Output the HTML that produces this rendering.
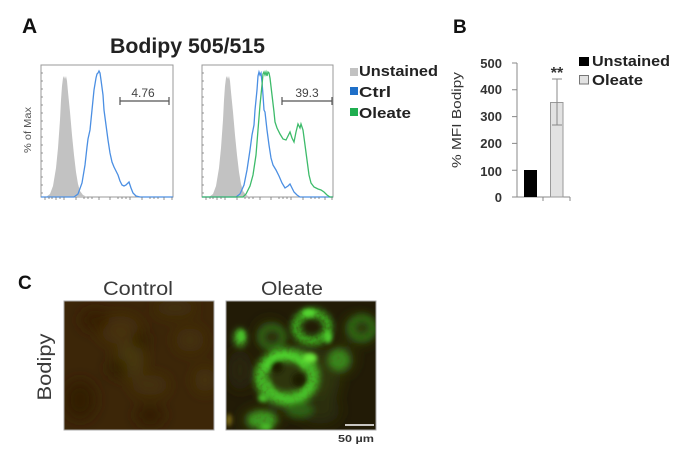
<!DOCTYPE html>
<html><head><meta charset="utf-8">
<style>
html,body{margin:0;padding:0;background:#fff;}
svg{display:block;}
text{font-family:"Liberation Sans",Arial,sans-serif;}
</style></head>
<body>
<svg width="700" height="466" viewBox="0 0 700 466" xmlns="http://www.w3.org/2000/svg">
<defs>
  <filter id="b2" x="-50%" y="-50%" width="200%" height="200%"><feGaussianBlur stdDeviation="2"/></filter>
  <filter id="b4" x="-50%" y="-50%" width="200%" height="200%"><feGaussianBlur stdDeviation="4"/></filter>
  <filter id="b7" x="-50%" y="-50%" width="200%" height="200%"><feGaussianBlur stdDeviation="7"/></filter>
  <filter id="speck" filterUnits="userSpaceOnUse" x="226" y="301" width="150" height="129">
    <feGaussianBlur in="SourceGraphic" stdDeviation="3.5" result="bl"/>
    <feTurbulence type="fractalNoise" baseFrequency="0.3" numOctaves="2" seed="5" result="n"/>
    <feColorMatrix in="n" type="matrix" values="0 0 0 0 0  0 0 0 0 0  0 0 0 0 0  2.2 0 0 0 -0.45" result="na"/>
    <feComposite in="bl" in2="na" operator="arithmetic" k1="0.6" k2="0.6" k3="0" k4="0"/>
  </filter>
  <clipPath id="c1"><rect x="64" y="301" width="150" height="129"/></clipPath>
  <clipPath id="c2"><rect x="226" y="301" width="150" height="129"/></clipPath>
</defs>

<!-- Panel A -->
<text x="22" y="33" font-size="21" font-weight="bold" fill="#111">A</text>
<text x="110" y="53" font-size="21" font-weight="bold" fill="#222" textLength="155" lengthAdjust="spacingAndGlyphs">Bodipy 505/515</text>
<text transform="translate(31,130) rotate(-90)" text-anchor="middle" font-size="10" fill="#555" textLength="46" lengthAdjust="spacingAndGlyphs">% of Max</text>

<!-- hist 1 -->
<rect x="41" y="65" width="132" height="132" fill="none" stroke="#999" stroke-width="1"/>
<path d="M46,197 L50,194 L53,186 L56,168 L58,148 L60,120 L61,100 L62,86 L63,78 L64,76 L65,79 L66,76 L67,81 L68,92 L70,112 L72,135 L74,155 L76,172 L78,184 L80,191 L83,195 L87,197 Z" fill="#c2c2c2"/>
<path d="M41,197 L74,197 L78,194 L82,183 L85,165 L87,147 L88,139 L90,130 L92,110 L94,90 L96,78 L97,74 L98,73 L99,71 L100,73 L101,80 L103,95 L104,110 L106,125 L108,140 L110,153 L112,162 L114,167 L116,171 L118,175 L120,181 L122,185 L124,186 L126,185 L128,183 L129,182 L131,188 L133,193 L136,196 L140,197 L173,197" fill="none" stroke="#4b8fe3" stroke-width="1.3"/>
<path d="M120,97 V105 M120,101 H169 M169,97 V105" stroke="#555" stroke-width="1.2" fill="none"/>
<text x="143" y="97" font-size="12" fill="#444" text-anchor="middle">4.76</text>

<!-- hist 2 -->
<rect x="202" y="65" width="131" height="132" fill="none" stroke="#999" stroke-width="1"/>
<path d="M209,197 L213,194 L216,186 L219,168 L221,148 L223,120 L224,100 L225,86 L226,78 L227,76 L228,79 L229,76 L230,81 L231,92 L233,112 L235,135 L237,155 L239,172 L241,184 L243,191 L246,195 L250,197 Z" fill="#c2c2c2"/>
<path d="M202,197 L236,197 L240,194 L244,185 L247,170 L250,150 L252,135 L254,125 L255,110 L257,90 L258,76 L259,72 L260,75 L261,73 L262,82 L263,95 L264,110 L265,112 L267,130 L269,145 L271,158 L273,165 L276,170 L279,176 L282,183 L285,188 L288,186 L290,184 L292,188 L294,192 L297,195 L300,197 L333,197" fill="none" stroke="#4b8fe3" stroke-width="1.3"/>
<path d="M202,197 L243,197 L246,194 L250,186 L253,175 L256,155 L258,130 L260,105 L262,85 L263,74 L264,72 L265,75 L266,72 L267,76 L268,72 L269,73 L270,78 L272,95 L274,112 L275,122 L277,128 L280,134 L283,139 L286,140 L288,136 L290,132 L292,138 L294,142 L296,132 L298,124 L300,128 L301,124 L303,130 L305,145 L307,160 L309,175 L311,183 L314,187 L318,189 L321,190 L324,192 L327,195 L330,197 L333,197" fill="none" stroke="#3dbb6a" stroke-width="1.3"/>
<path d="M282,97 V105 M282,101 H332 M332,97 V105" stroke="#555" stroke-width="1.2" fill="none"/>
<text x="307" y="97" font-size="12" fill="#444" text-anchor="middle">39.3</text>

<!-- axis ticks -->
<g stroke="#777" stroke-width="0.8">
  <path d="M41,73 h2 M41,81 h2 M41,89 h2 M41,97 h2 M41,105 h2 M41,113 h2 M41,121 h2 M41,129 h2 M41,137 h2 M41,145 h2 M41,153 h2 M41,161 h2 M41,169 h2 M41,177 h2 M41,185 h2 M41,193 h2"/>
  <path d="M202,73 h2 M202,81 h2 M202,89 h2 M202,97 h2 M202,105 h2 M202,113 h2 M202,121 h2 M202,129 h2 M202,137 h2 M202,145 h2 M202,153 h2 M202,161 h2 M202,169 h2 M202,177 h2 M202,185 h2 M202,193 h2"/>
  <path d="M45,197 v3 M49,197 v2 M52,197 v2 M56,197 v3 M60,197 v2 M64,197 v3 M76,197 v3 M84,197 v2 M88,197 v2 M92,197 v2 M99,197 v3 M110,197 v3 M118,197 v2 M122,197 v2 M126,197 v2 M130,197 v3 M142,197 v3 M150,197 v2 M154,197 v2 M158,197 v2 M164,197 v3 M172,197 v3"/>
  <path d="M206,197 v3 M210,197 v2 M213,197 v2 M217,197 v3 M221,197 v2 M225,197 v3 M237,197 v3 M245,197 v2 M249,197 v2 M253,197 v2 M260,197 v3 M271,197 v3 M279,197 v2 M283,197 v2 M287,197 v2 M291,197 v3 M303,197 v3 M311,197 v2 M315,197 v2 M319,197 v2 M325,197 v3 M332,197 v3"/>
</g>

<!-- legend A -->
<rect x="350" y="68" width="8" height="8" fill="#c2c2c2"/>
<text x="359" y="76" font-size="15" font-weight="bold" fill="#222" textLength="79" lengthAdjust="spacingAndGlyphs">Unstained</text>
<rect x="350" y="87" width="8" height="8" fill="#1f6fc8"/>
<text x="359" y="97" font-size="15" font-weight="bold" fill="#222" textLength="32" lengthAdjust="spacingAndGlyphs">Ctrl</text>
<rect x="350" y="108" width="8" height="8" fill="#1fae50"/>
<text x="359" y="118" font-size="15" font-weight="bold" fill="#222" textLength="52" lengthAdjust="spacingAndGlyphs">Oleate</text>

<!-- Panel B -->
<text x="453" y="33" font-size="19" font-weight="bold" fill="#111">B</text>
<text transform="translate(461,120) rotate(-90)" text-anchor="middle" font-size="13" fill="#333" textLength="96" lengthAdjust="spacingAndGlyphs">% MFI Bodipy</text>
<g font-size="13" font-weight="bold" fill="#333" text-anchor="end">
  <text x="502" y="68">500</text>
  <text x="502" y="94">400</text>
  <text x="502" y="121">300</text>
  <text x="502" y="148">200</text>
  <text x="502" y="176">100</text>
  <text x="502" y="202">0</text>
</g>
<g stroke="#888" stroke-width="1" fill="none">
  <path d="M517,63 V197 H570"/>
  <path d="M512,63 h5 M512,89.8 h5 M512,116.6 h5 M512,143.4 h5 M512,170.2 h5 M512,197 h5"/>
  <path d="M543,197 v4 M570,197 v4"/>
</g>
<rect x="524" y="170" width="13" height="27" fill="#000"/>
<rect x="550.5" y="102.5" width="12.5" height="94.5" fill="#e2e2e2" stroke="#999" stroke-width="1"/>
<path d="M557,79 V125 M552,79 h10 M552,125 h10" stroke="#888" stroke-width="1" fill="none"/>
<text x="557" y="78" font-size="16" font-weight="bold" fill="#333" text-anchor="middle">**</text>
<rect x="579" y="57" width="10" height="9" fill="#000"/>
<text x="592" y="66" font-size="15" font-weight="bold" fill="#222" textLength="78" lengthAdjust="spacingAndGlyphs">Unstained</text>
<rect x="579.5" y="75.5" width="9" height="8.5" fill="#e2e2e2" stroke="#777" stroke-width="1"/>
<text x="592" y="85" font-size="15" font-weight="bold" fill="#222" textLength="51" lengthAdjust="spacingAndGlyphs">Oleate</text>

<!-- Panel C -->
<text x="18" y="289" font-size="19" font-weight="bold" fill="#111">C</text>
<text x="103" y="295" font-size="19" fill="#3a3a3a" textLength="70" lengthAdjust="spacingAndGlyphs">Control</text>
<text x="261" y="295" font-size="19" fill="#3a3a3a" textLength="62" lengthAdjust="spacingAndGlyphs">Oleate</text>
<text transform="translate(51,367) rotate(-90)" text-anchor="middle" font-size="19" fill="#3a3a3a" textLength="67" lengthAdjust="spacingAndGlyphs">Bodipy</text>

<!-- Control image -->
<g clip-path="url(#c1)">
  <rect x="64" y="301" width="150" height="129" fill="#3c2608"/>
  <g filter="url(#b7)">
    <ellipse cx="120" cy="330" rx="20" ry="14" fill="#47330d"/>
    <ellipse cx="130" cy="360" rx="14" ry="18" fill="#4a3a10"/>
    <ellipse cx="190" cy="340" rx="14" ry="12" fill="#44320c"/>
    <ellipse cx="150" cy="385" rx="18" ry="10" fill="#45330d"/>
    <ellipse cx="205" cy="380" rx="10" ry="12" fill="#473610"/>
    <ellipse cx="80" cy="400" rx="16" ry="20" fill="#321e06"/>
    <ellipse cx="140" cy="340" rx="9" ry="8" fill="#2e1c05"/>
    <ellipse cx="118" cy="368" rx="10" ry="9" fill="#2f1d05"/>
    <ellipse cx="150" cy="415" rx="14" ry="10" fill="#331f06"/>
    <ellipse cx="95" cy="320" rx="14" ry="10" fill="#351f06"/>
    <ellipse cx="175" cy="308" rx="20" ry="8" fill="#42300b"/>
  </g>
</g>
<rect x="64" y="301" width="150" height="129" fill="none" stroke="#aaa" stroke-width="1"/>

<!-- Oleate image -->
<g clip-path="url(#c2)">
  <rect x="226" y="301" width="150" height="129" fill="#221b06"/>
  <g filter="url(#b7)">
    <ellipse cx="300" cy="380" rx="40" ry="35" fill="#2e340a"/>
    <ellipse cx="360" cy="330" rx="16" ry="14" fill="#2f3c0c"/>
    <ellipse cx="270" cy="335" rx="14" ry="14" fill="#2d330b"/>
    <ellipse cx="340" cy="360" rx="14" ry="14" fill="#303c0c"/>
    <ellipse cx="260" cy="420" rx="18" ry="10" fill="#313e0c"/>
    <ellipse cx="320" cy="410" rx="20" ry="14" fill="#2b2d08"/>
    <ellipse cx="240" cy="370" rx="12" ry="20" fill="#2c270a"/>
  </g>
  <g filter="url(#speck)">
    <ellipse cx="287" cy="377" rx="26" ry="22" fill="none" stroke="#58e030" stroke-width="13"/>
    <ellipse cx="312" cy="327" rx="16" ry="14" fill="none" stroke="#50d02c" stroke-width="9"/>
    <ellipse cx="339" cy="360" rx="11" ry="11" fill="#48a826"/>
    <ellipse cx="362" cy="328" rx="11" ry="10" fill="none" stroke="#3e8a1e" stroke-width="7"/>
    <ellipse cx="262" cy="420" rx="15" ry="9" fill="#50c02a"/>
    <ellipse cx="272" cy="337" rx="11" ry="10" fill="none" stroke="#3e8a1e" stroke-width="6"/>
    <ellipse cx="240" cy="338" rx="6" ry="9" fill="#58d030"/>
    <ellipse cx="300" cy="410" rx="14" ry="8" fill="#3a7a1a"/>
  </g>
  <g filter="url(#b2)">
    <path d="M265,370 Q270,355 285,355 Q300,357 305,368" fill="none" stroke="#52dd30" stroke-width="5" opacity="0.8"/>
    <path d="M268,380 Q272,398 290,400 Q305,398 310,385" fill="none" stroke="#4ccf2c" stroke-width="4" opacity="0.7"/>
    <ellipse cx="310" cy="358" rx="7" ry="5" fill="#6ae83a"/>
    <ellipse cx="309" cy="313" rx="7" ry="4" fill="#55d830"/>
    <ellipse cx="328" cy="337" rx="4" ry="6" fill="#50d02e"/>
    <ellipse cx="241" cy="336" rx="4" ry="6" fill="#48c22a"/>
    <ellipse cx="263" cy="398" rx="5" ry="4" fill="#48c02a"/>
    <ellipse cx="277" cy="367" rx="6" ry="6" fill="#1a1a05"/>
    <ellipse cx="299" cy="380" rx="7" ry="7" fill="#1e1d05"/>
    <ellipse cx="229" cy="420" rx="3" ry="6" fill="#7a6a15"/>
    <ellipse cx="266" cy="427" rx="6" ry="3" fill="#4cc22a"/>
  </g>
</g>
<rect x="226" y="301" width="150" height="129" fill="none" stroke="#aaa" stroke-width="1"/>
<line x1="345" y1="425" x2="374" y2="425" stroke="#fff" stroke-width="1.6"/>
<text x="356" y="442" font-size="10.5" font-weight="bold" fill="#333" text-anchor="middle" textLength="36" lengthAdjust="spacingAndGlyphs">50 µm</text>
</svg>
</body></html>
